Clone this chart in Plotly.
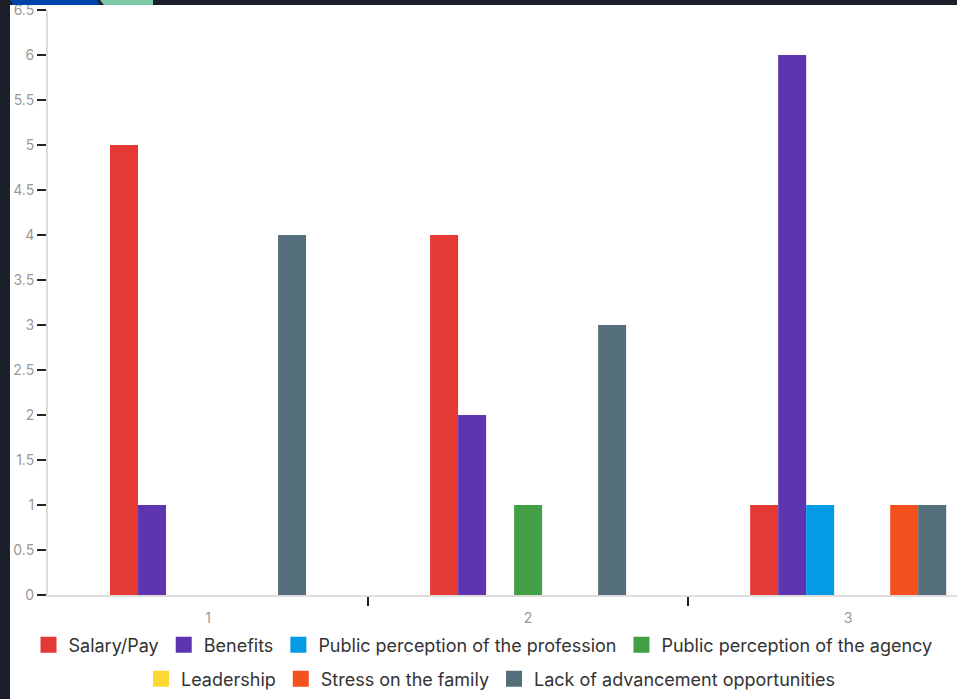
import plotly.graph_objects as go

categories = [1, 2, 3]
series_names = [
    "Salary/Pay",
    "Benefits",
    "Public perception of the profession",
    "Public perception of the agency",
    "Leadership",
    "Stress on the family",
    "Lack of advancement opportunities",
]
salary = [5, 4, 1]
benefits = [1, 2, 6]
perception_profession = [0, 0, 1]
perception_agency = [0, 1, 0]
leadership = [0, 0, 0]
stress_family = [0, 0, 1]
lack_advancement = [4, 3, 1]

series_values = [salary, benefits, perception_profession, perception_agency,
                 leadership, stress_family, lack_advancement]
colors = ["#e53935", "#5e35b1", "#039be5", "#43a047", "#fdd835", "#f4511e", "#546e7a"]

W, H = 957, 699
L, R, T, B = 48, 957, 10, 595


def px(x):
    return (x - L) / (R - L)


def py(y):
    return (B - y) / (B - T)


fig = go.Figure()
for i, (name, vals, col) in enumerate(zip(series_names, series_values, colors)):
    lg = "legend" if i < 4 else "legend2"
    fig.add_trace(go.Bar(
        x=categories, y=vals, name=name,
        marker=dict(color=col, line=dict(width=0)),
        showlegend=False, legendgroup=name,
    ))
    # legend entry with a larger square swatch
    fig.add_trace(go.Scatter(
        x=[None], y=[None], mode="markers", name=name,
        marker=dict(symbol="square", size=16, color=col),
        legend=lg, legendgroup=name, showlegend=True,
    ))

font_family = "Inter, Roboto, sans-serif"
dark = "#1b1f2a"

shapes = [
    dict(type="rect", xref="paper", yref="paper", x0=px(0), x1=px(W), y0=py(0), y1=py(5),
         fillcolor=dark, line=dict(width=0), layer="above"),
    dict(type="rect", xref="paper", yref="paper", x0=px(0), x1=px(10), y0=py(0), y1=py(H),
         fillcolor=dark, line=dict(width=0), layer="above"),
    dict(type="path", xref="paper", yref="paper",
         path=f"M {px(10)} {py(0)} L {px(97)} {py(0)} L {px(100)} {py(5)} L {px(13)} {py(5)} Z",
         fillcolor="#0044aa", line=dict(width=0), layer="above"),
    dict(type="path", xref="paper", yref="paper",
         path=f"M {px(100)} {py(0)} L {px(153)} {py(0)} L {px(153)} {py(5)} L {px(104)} {py(5)} Z",
         fillcolor="#7fc8a5", line=dict(width=0), layer="above"),
]

legend_font = dict(size=18, color="#333", family=font_family)

fig.update_layout(
    width=W, height=H,
    margin=dict(l=L, r=W - R, t=T, b=H - B, pad=0),
    paper_bgcolor="white", plot_bgcolor="white",
    font=dict(family=font_family, color="#333"),
    barmode="group", bargap=0.3875, bargroupgap=0,
    showlegend=True,
    legend=dict(orientation="h", x=px(483), xanchor="center", y=py(645), yanchor="middle",
                font=legend_font, bgcolor="rgba(0,0,0,0)", itemsizing="trace"),
    legend2=dict(orientation="h", x=px(491), xanchor="center", y=py(679), yanchor="middle",
                 font=legend_font, bgcolor="rgba(0,0,0,0)", itemsizing="trace"),
    xaxis=dict(
        range=[0.5, 3.34], tickmode="array", tickvals=categories,
        ticktext=[str(c) for c in categories],
        ticks="outside", ticklen=9, tickcolor="rgba(0,0,0,0)",
        tickfont=dict(size=14, color="#999"),
        showline=True, linecolor="#dddddd", linewidth=2,
        showgrid=False, zeroline=False,
        minor=dict(tickmode="array", tickvals=[1.5, 2.5], ticks="outside",
                   ticklen=9, tickcolor="#222", tickwidth=1.5, showgrid=False),
    ),
    yaxis=dict(
        range=[0, 6.5], dtick=0.5, tick0=0,
        ticks="outside", ticklen=9, tickcolor="#222", tickwidth=1.5,
        tickfont=dict(size=14, color="#999"),
        showline=True, linecolor="#dddddd", linewidth=2,
        showgrid=False, zeroline=False,
    ),
    shapes=shapes,
)

fig.write_html("out.html")
